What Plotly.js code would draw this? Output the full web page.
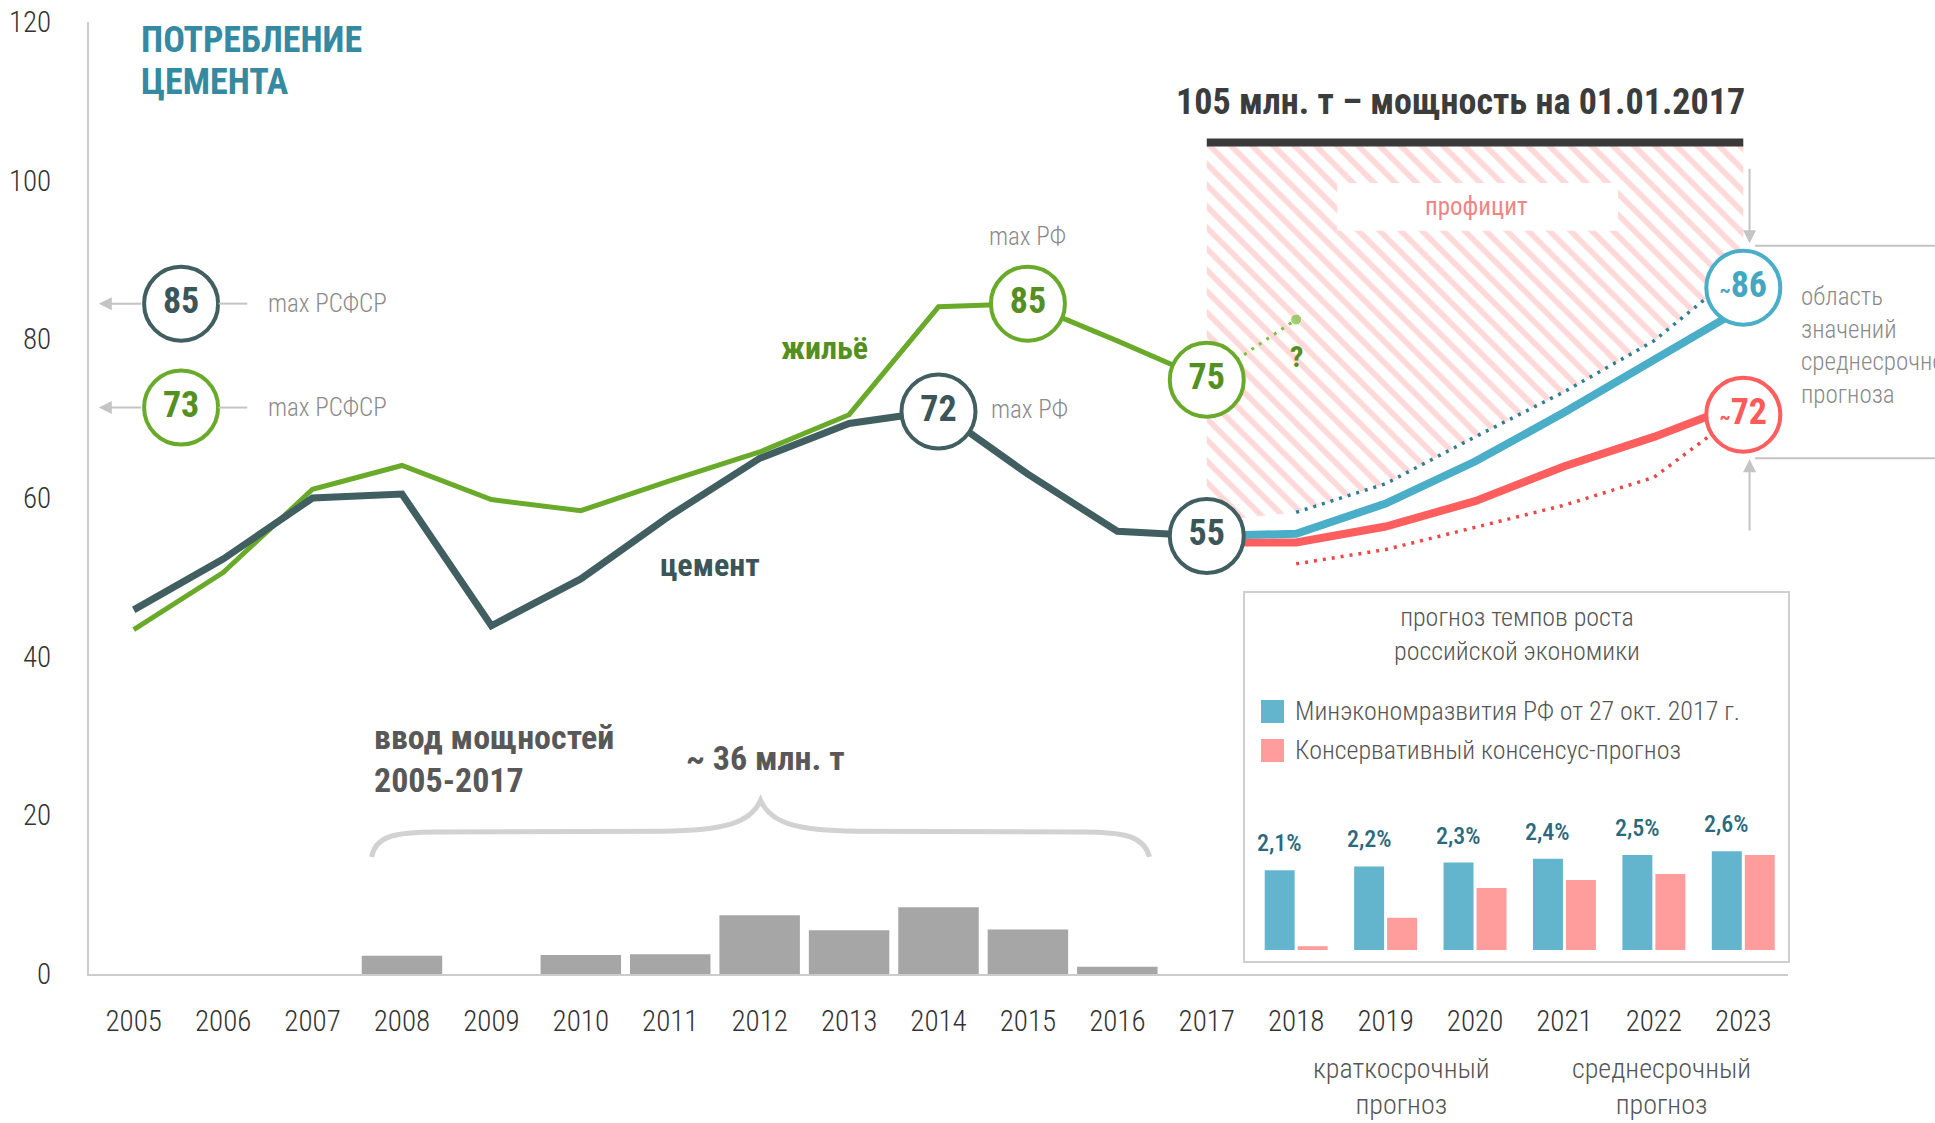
<!DOCTYPE html>
<html lang="ru">
<head>
<meta charset="utf-8">
<title>Потребление цемента</title>
<script src="https://cdn.plot.ly/plotly-3.0.1.min.js"></script>
<style>
  html, body { margin: 0; padding: 0; background: #fff; }
  #chart { width: 1935px; height: 1123px; }
</style>
</head>
<body>
<div id="chart"></div>
<script>
const FONT = '"Roboto Condensed", "Liberation Sans Narrow", "DejaVu Sans Condensed", Roboto, sans-serif';

// факт, млн т
const years = [2005, 2006, 2007, 2008, 2009, 2010, 2011, 2012, 2013, 2014, 2015, 2016, 2017];
const cement = [45.9, 52.3, 60.0, 60.5, 43.9, 49.8, 57.8, 65.0, 69.4, 71.0, 63.0, 55.8, 55.2];
const housing = [43.4, 50.6, 61.1, 64.1, 59.8, 58.4, 62.2, 65.8, 70.5, 84.1, 84.5, 79.8, 74.9];
const capacityAdded = [0, 0, 0, 2.3, 0, 2.4, 2.5, 7.4, 5.5, 8.4, 5.6, 0.9, 0];

// прогноз
const fcYears = [2017, 2018, 2019, 2020, 2021, 2022, 2023];
const fcMinecon = [55.2, 55.5, 59.3, 64.6, 70.8, 77.4, 84.0];
const fcConserv = [54.4, 54.4, 56.4, 59.6, 64.0, 67.7, 72.0];
const bandYears = [2018, 2019, 2020, 2021, 2022, 2023];
const bandUpper = [58.2, 61.8, 67.7, 73.4, 79.8, 89.0];
const bandLower = [51.7, 53.5, 56.3, 59.1, 62.6, 71.0];
const housingGuessYears = [2017, 2018];
const housingGuess = [74.9, 82.5];
const capacityYears = [2017, 2023];
const capacity = [104.8, 104.8];

// врезка: темпы роста экономики, %
const growthYears = [2018, 2019, 2020, 2021, 2022, 2023];
const growthMinecon = [2.1, 2.2, 2.3, 2.4, 2.5, 2.6];
const growthConserv = [0.1, 0.85, 1.63, 1.84, 2.0, 2.5];
const growthLabels = ['2,1%', '2,2%', '2,3%', '2,4%', '2,5%', '2,6%'];

// кружки с подписями
const circleX = [2005.53, 2005.53, 2015, 2014, 2017, 2017, 2023, 2023];
const circleY = [84.5, 71.4, 84.5, 70.9, 74.9, 55.2, 86.5, 70.5];
const circleText = ['85', '73', '85', '72', '75', '55', '<span style="font-size:20px">~</span>86', '<span style="font-size:20px">~</span>72'];
const circleKind = ['cement', 'housing', 'housing', 'cement', 'housing', 'cement', 'minecon', 'conserv'];

const allYears = [];
for (let y = 2005; y <= 2023; y++) allYears.push(y);

const colors = {
  cement: '#415e61', housing: '#6aaa2b', minecon: '#4aaec8', conserv: '#ff5e5e',
  mineconDot: '#2c7f97', conservDot: '#f04545', housingDot: '#7cbf3f',
  cementText: '#3b5558', housingText: '#548f22', mineconText: '#45a6c2', conservText: '#ff5a5a',
  bars: '#a6a6a6', incBlue: '#63b4cd', incPink: '#ff9c9c', grey: '#c4c4c4', note: '#8a8a8a'
};

// область графика в пикселях
const PLOT = { l: 89, r: 1788, t: 22, b: 974 };
const pX = px => (px - PLOT.l) / (PLOT.r - PLOT.l);
const pY = py => (PLOT.b - py) / (PLOT.b - PLOT.t);

const noHover = { hoverinfo: 'skip', showlegend: false };

const hatchX = [capacityYears[0], capacityYears[1]].concat(bandYears.slice().reverse(), [2017]);
const hatchY = [104.5, 104.5].concat(bandUpper.slice().reverse(), [57]);

const traces = [
  Object.assign({
    x: hatchX, y: hatchY, type: 'scatter', mode: 'lines', fill: 'toself',
    fillcolor: 'rgba(0,0,0,0)', line: { width: 0 },
    fillpattern: { shape: '\\', fgcolor: '#ffd9d9', bgcolor: 'rgba(255,255,255,0)', size: 15, solidity: 0.38 }
  }, noHover),
  Object.assign({
    x: years, y: capacityAdded, type: 'bar', width: 0.9,
    marker: { color: colors.bars, line: { width: 0 } }
  }, noHover),
  Object.assign({
    x: years, y: housing, type: 'scatter', mode: 'lines',
    line: { color: colors.housing, width: 5 }
  }, noHover),
  Object.assign({
    x: years, y: cement, type: 'scatter', mode: 'lines',
    line: { color: colors.cement, width: 7 }
  }, noHover),
  Object.assign({
    x: housingGuessYears, y: housingGuess, type: 'scatter', mode: 'lines+markers',
    line: { color: colors.housingDot, width: 3, dash: '3px,6px' },
    marker: { size: [0, 11], color: colors.housingDot }
  }, noHover),
  Object.assign({
    x: bandYears, y: bandUpper, type: 'scatter', mode: 'lines',
    line: { color: colors.mineconDot, width: 3.5, dash: '3px,6px' }
  }, noHover),
  Object.assign({
    x: bandYears, y: bandLower, type: 'scatter', mode: 'lines',
    line: { color: colors.conservDot, width: 3.5, dash: '3px,6px' }
  }, noHover),
  Object.assign({
    x: fcYears, y: fcConserv, type: 'scatter', mode: 'lines',
    line: { color: colors.conserv, width: 8 }
  }, noHover),
  Object.assign({
    x: fcYears, y: fcMinecon, type: 'scatter', mode: 'lines',
    line: { color: colors.minecon, width: 8 }
  }, noHover),
  Object.assign({
    x: circleX, y: circleY, type: 'scatter', mode: 'markers+text',
    text: circleText, textposition: 'middle center',
    textfont: { family: FONT, size: 36, weight: 700, color: circleKind.map(k => colors[k + 'Text']) },
    marker: { size: 74, color: '#fff', line: { width: 4, color: circleKind.map(k => colors[k]) } },
    cliponaxis: false
  }, noHover),
  Object.assign({
    x: growthYears, y: growthMinecon, type: 'bar', yaxis: 'y2',
    width: 0.335, offset: -0.352, marker: { color: colors.incBlue }
  }, noHover),
  Object.assign({
    x: growthYears, y: growthConserv, type: 'bar', yaxis: 'y2',
    width: 0.335, offset: 0.017, marker: { color: colors.incPink }
  }, noHover)
];

const annotations = [];
const note = (text, x, y, opts) => annotations.push(Object.assign({
  text, x, y, xref: 'x', yref: 'y', xanchor: 'center', yanchor: 'middle', showarrow: false
}, opts));

// заголовок
note('<b>ПОТРЕБЛЕНИЕ</b>', pX(139), pY(40), { xref: 'paper', yref: 'paper', xanchor: 'left', font: { size: 36, color: '#3589a0' } });
note('<b>ЦЕМЕНТА</b>', pX(139), pY(82), { xref: 'paper', yref: 'paper', xanchor: 'left', font: { size: 36, color: '#3589a0' } });

// подписи линий
note('<b>жильё</b>', 2012.72, 78.9, { font: { size: 32, color: colors.housingText } });
note('<b>цемент</b>', 2011.45, 51.6, { font: { size: 32, color: colors.cementText } });
note('<b>?</b>', 2018, 77.8, { font: { size: 30, color: colors.housingText } });

// максимумы
note('max РСФСР', 2006.48, circleY[0], { xanchor: 'left', font: { size: 25, color: colors.note, weight: 300 } });
note('max РСФСР', 2006.48, circleY[1], { xanchor: 'left', font: { size: 25, color: colors.note, weight: 300 } });
note('max РФ', 2015, 93.0, { font: { size: 25, color: colors.note, weight: 300 } });
note('max РФ', 2014.56, 71.1, { xanchor: 'left', font: { size: 25, color: colors.note, weight: 300 } });

// мощность
note('<b>105 млн. т – мощность на 01.01.2017</b>', 2019.84, 109.9, { font: { size: 36, color: '#3c3c3c' } });
note('профицит', 2020.02, 96.7, { font: { size: 25, color: '#f08585' } });

// ввод мощностей
note('<b>ввод мощностей</b>', 2007.66, 29.9, { xanchor: 'left', font: { size: 34, color: '#585858' } });
note('<b>2005-2017</b>', 2007.66, 24.5, { xanchor: 'left', font: { size: 34, color: '#585858' } });
note('<b>~ 36 млн. т</b>', 2012.06, 27.2, { font: { size: 34, color: '#585858' } });

// правый блок
note('область<br>значений<br>среднесрочного<br>прогноза', pX(1799), pY(345), {
  xref: 'paper', yref: 'paper', xanchor: 'left', align: 'left',
  font: { size: 25, color: colors.note, weight: 300 }
});

// подписи под осью
note('краткосрочный<br>прогноз', 2019.18, pY(1086), { yref: 'paper', font: { size: 28, color: '#555', weight: 300 } });
note('среднесрочный<br>прогноз', 2022.08, pY(1086), { yref: 'paper', font: { size: 28, color: '#555', weight: 300 } });

// врезка
note('прогноз темпов роста<br>российской экономики', pX(1517), pY(634), {
  xref: 'paper', yref: 'paper', font: { size: 26, color: '#555', weight: 300 }
});
note('Минэкономразвития РФ от 27 окт. 2017 г.', pX(1293), pY(711), {
  xref: 'paper', yref: 'paper', xanchor: 'left', font: { size: 26, color: '#555', weight: 300 }
});
note('Консервативный консенсус-прогноз', pX(1293), pY(750), {
  xref: 'paper', yref: 'paper', xanchor: 'left', font: { size: 26, color: '#555', weight: 300 }
});
growthYears.forEach((yr, i) => note(growthLabels[i], yr - 0.185, growthMinecon[i], {
  yref: 'y2', yanchor: 'bottom', yshift: 11, font: { size: 24, color: '#2b6a7e', weight: 500 }
}));

// стрелки
const arrow = (x, y, ax, ay) => annotations.push({
  x, y, ax, ay, xref: 'x', yref: 'y', axref: 'x', ayref: 'y', text: '',
  showarrow: true, arrowhead: 2, arrowsize: 1.3, arrowwidth: 2, arrowcolor: colors.grey
});
arrow(2004.61, circleY[0], 2005.1, circleY[0]);
arrow(2004.61, circleY[1], 2005.1, circleY[1]);
arrow(2023.07, 92.1, 2023.07, 101.7);
arrow(2023.07, 64.9, 2023.07, 55.7);

const shapes = [
  { type: 'line', xref: 'x', yref: 'y', x0: 2005.95, x1: 2006.27, y0: circleY[0], y1: circleY[0], line: { color: colors.grey, width: 2 } },
  { type: 'line', xref: 'x', yref: 'y', x0: 2005.95, x1: 2006.27, y0: circleY[1], y1: circleY[1], line: { color: colors.grey, width: 2 } },
  { type: 'line', xref: 'paper', yref: 'y', x0: pX(1755), x1: pX(1940), y0: 91.8, y1: 91.8, line: { color: colors.grey, width: 2 } },
  { type: 'line', xref: 'paper', yref: 'y', x0: pX(1755), x1: pX(1940), y0: 65.0, y1: 65.0, line: { color: colors.grey, width: 2 } },
  { type: 'line', xref: 'x', yref: 'y', x0: capacityYears[0], x1: capacityYears[1], y0: capacity[0], y1: capacity[1], line: { color: '#3a3a3a', width: 8 } },
  { type: 'rect', xref: 'x', yref: 'y', x0: 2018.46, x1: 2021.6, y0: 93.7, y1: 99.7, fillcolor: '#fff', line: { width: 0 }, layer: 'above' },
  { type: 'rect', xref: 'paper', yref: 'paper', x0: pX(1244), x1: pX(1789), y0: pY(962), y1: pY(592), fillcolor: '#fff', line: { color: '#cfcfcf', width: 2 }, layer: 'below' },
  { type: 'rect', xref: 'paper', yref: 'paper', x0: pX(1261), x1: pX(1284), y0: pY(723), y1: pY(700), fillcolor: colors.incBlue, line: { width: 0 } },
  { type: 'rect', xref: 'paper', yref: 'paper', x0: pX(1261), x1: pX(1284), y0: pY(762), y1: pY(739), fillcolor: colors.incPink, line: { width: 0 } },
  {
    type: 'path', xref: 'x', yref: 'y', line: { color: '#d2d2d2', width: 5 },
    path: 'M 2007.66,14.75 C 2007.7,17.3 2007.9,17.9 2008.4,17.9 L 2010.9,18.0 C 2011.6,18.1 2011.9,19.0 2012.01,21.9 ' +
          'C 2012.12,19.0 2012.4,18.1 2013.1,18.0 L 2015.6,17.9 C 2016.1,17.9 2016.3,17.3 2016.36,14.75'
  }
];

const layout = {
  width: 1935, height: 1123,
  margin: { l: PLOT.l, r: 1935 - PLOT.r, t: PLOT.t, b: 1123 - PLOT.b, pad: 0 },
  paper_bgcolor: '#fff', plot_bgcolor: 'rgba(0,0,0,0)',
  font: { family: FONT, color: '#333' },
  showlegend: false,
  barmode: 'overlay',
  xaxis: {
    range: [2004.5, 2023.5], tickvals: allYears, ticktext: allYears.map(String),
    showline: true, linecolor: '#cccccc', linewidth: 2, showgrid: false, zeroline: false,
    ticks: '', ticklabelstandoff: 20, tickfont: { size: 29, color: '#333', weight: 300 }, fixedrange: true
  },
  yaxis: {
    range: [0, 120], tickvals: [0, 20, 40, 60, 80, 100, 120],
    showline: true, linecolor: '#cccccc', linewidth: 2, showgrid: false, zeroline: false,
    ticks: '', ticklabelstandoff: 30, tickfont: { size: 29, color: '#333', weight: 300 }, fixedrange: true
  },
  yaxis2: {
    domain: [pY(950), pY(830)], range: [0, 120 / 38], anchor: 'x', visible: false, fixedrange: true
  },
  shapes, annotations
};

Plotly.newPlot('chart', traces, layout, { displayModeBar: false, staticPlot: true });
</script>
</body>
</html>
